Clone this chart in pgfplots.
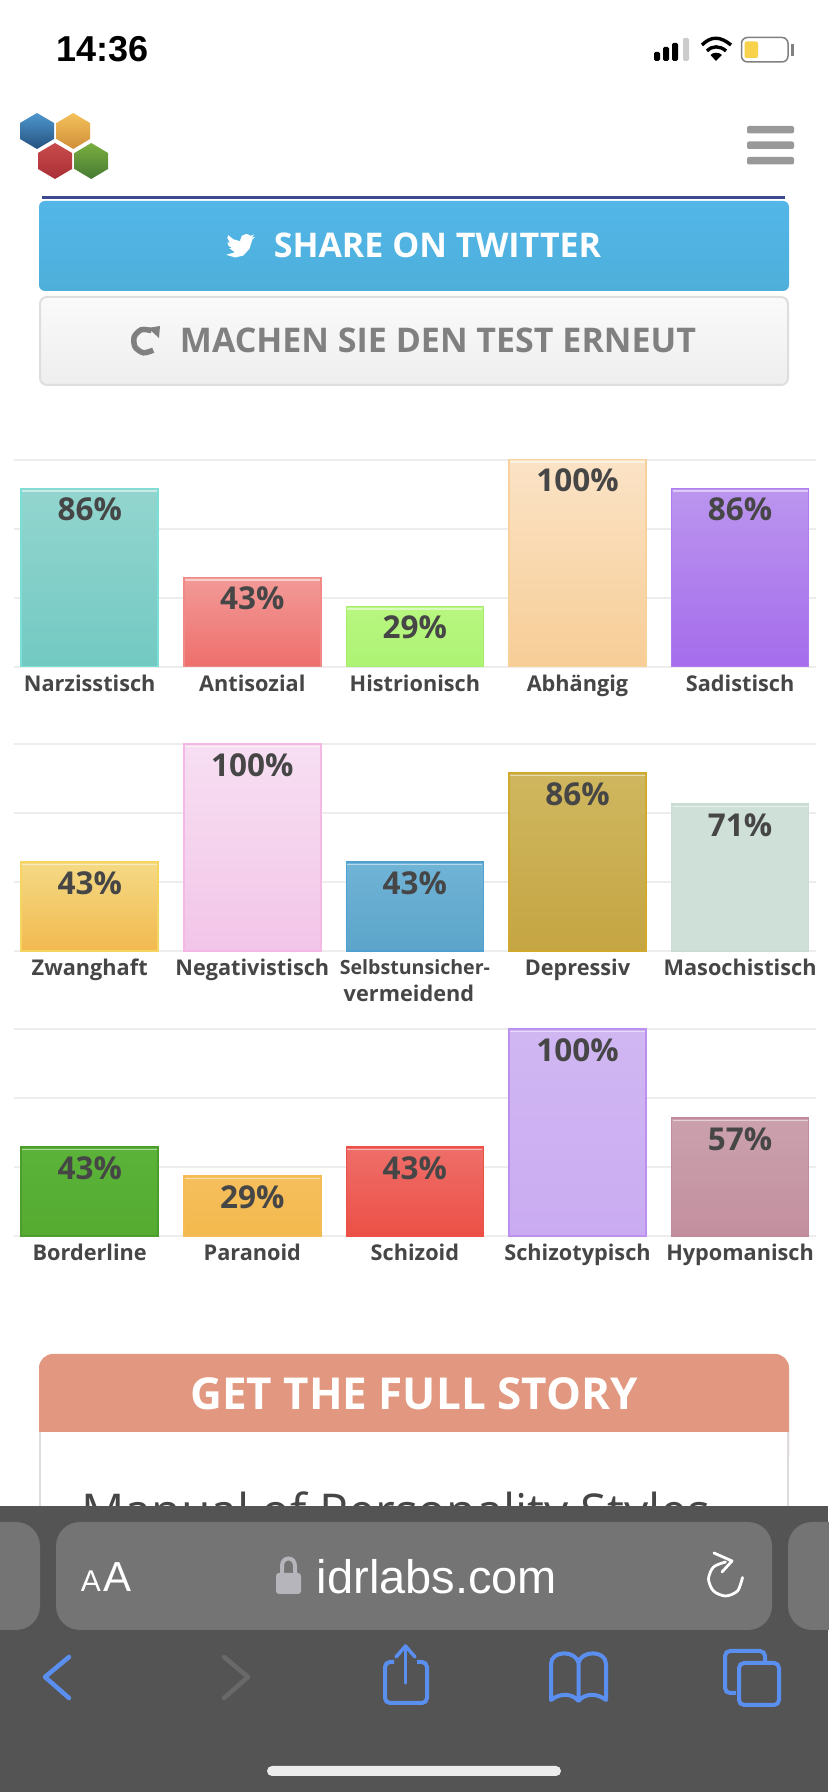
\documentclass[border=0pt]{standalone}
\usepackage{fontspec}
\usepackage{pgfplots}
\pgfplotsset{compat=1.18}
\setmainfont{Open Sans}
\newfontfamily\uifont{Liberation Sans}
\newcommand{\fs}[1]{\fontsize{#1}{#1}\selectfont}

% edge, top and bottom colour of one bar
\newcommand{\defbar}[4]{%
  \definecolor{#1-e}{HTML}{#2}\definecolor{#1-t}{HTML}{#3}\definecolor{#1-b}{HTML}{#4}}
\defbar{narz}{7ADFD6}{93D5CF}{72CAC2}
\defbar{anti}{F08A87}{F29A97}{EE6F6C}
\defbar{hist}{A6EC6E}{B8F680}{AEF374}
\defbar{abha}{F9D19C}{FBE3C6}{F7CD96}
\defbar{sadi}{B07AF0}{BB95EE}{A56CEC}
\defbar{zwan}{F5D560}{F4DA85}{F2B94F}
\defbar{nega}{F4B8E4}{F7DFF2}{F2C5E8}
\defbar{selb}{4F9FD1}{70B4D6}{5CA4CA}
\defbar{depr}{D0A92F}{CFB75F}{C5A543}
\defbar{maso}{CBDCD4}{CFE0D8}{CFE0D8}
\defbar{bord}{4B9E2C}{5BB33A}{55AB30}
\defbar{para}{F4BC55}{F5BF5D}{F4B94E}
\defbar{schi}{EC5046}{EE6E69}{EC5046}
\defbar{typi}{BB90EE}{D0B7F2}{CAABF2}
\defbar{hypo}{C08B9B}{CBA1AD}{C38F9E}

\definecolor{labeltext}{HTML}{464646}
\definecolor{gridc}{HTML}{EDEDED}
\definecolor{iosblue}{HTML}{5A8FF0}
\definecolor{battery}{HTML}{F8D24A}
\definecolor{rule}{HTML}{3B4A8E}
\definecolor{twtop}{HTML}{52B6E8}
\definecolor{twbot}{HTML}{4EAFDA}
\definecolor{btnedge}{HTML}{DEDEDE}
\definecolor{btntop}{HTML}{FAFAFA}
\definecolor{btnbot}{HTML}{EEEEEE}
\definecolor{panel}{HTML}{DDDDDD}
\definecolor{salmon}{HTML}{E29880}
\definecolor{toolbar}{HTML}{545454}
\definecolor{pill}{HTML}{747474}
\definecolor{lockc}{HTML}{B5B5BB}
\definecolor{dimmed}{HTML}{696969}
\definecolor{homebar}{HTML}{ECECEC}
\definecolor{hexbt}{HTML}{4F97CE}
\definecolor{hexbb}{HTML}{24527F}
\definecolor{hexot}{HTML}{F4C15A}
\definecolor{hexob}{HTML}{D08F3A}
\definecolor{hexrt}{HTML}{C94B4B}
\definecolor{hexrb}{HTML}{A92F37}
\definecolor{hexgt}{HTML}{7AAE3F}
\definecolor{hexgb}{HTML}{467A33}

% one bar, with the pale line just under its top edge
\newcommand{\persobar}[3]{%
  \addplot[ybar, bar width=137pt, bar shift=0pt, line width=1.5pt, draw=#3-e,
    top color=#3-t, bottom color=#3-b,
    nodes near coords={\pgfmathprintnumber{\pgfplotspointmeta}\%},
    nodes near coords style={anchor=center, yshift=-21pt, font=\bfseries\fs{31.5}, text=labeltext}]
    coordinates {(#1,#2)};
  \addplot[draw=none, mark=none, forget plot, yshift=-2.5pt,
    error bars/.cd, x dir=both, x fixed=0.415, error mark=none,
    error bar style={white, opacity=0.5, line width=1.5pt}]
    coordinates {(#1,#2)};
}

\pgfplotsset{persoaxis/.style={
  anchor=south west, scale only axis, width=802pt, height=207pt,
  xmin=-0.4656, xmax=4.4668, ymin=0, ymax=100, clip=false,
  axis line style={draw=none}, major tick length=0pt,
  xtick={0,1,2,3,4}, ytick={0,33.33,66.67,100}, yticklabels={},
  ymajorgrids, grid style={gridc, line width=2pt},
  /pgf/number format/assume math mode=true,
  xticklabel style={font=\bfseries\fs{21.7}, text=labeltext, align=center, inner sep=0pt, anchor=north, yshift=-8pt},
}}

% pointed hexagon of the logo: x0, y0, x1, y1, top, bottom
\newcommand{\hexa}[6]{%
  \shade[top color=#5, bottom color=#6]
    ({(#1+#3)/2},#2) -- (#3,{#2+10}) -- (#3,{#4-10}) -- ({(#1+#3)/2},#4)
    -- (#1,{#4-10}) -- (#1,{#2+10}) -- cycle;}

\begin{document}
\begin{tikzpicture}
\fill[white] (0,0) rectangle (828pt,1792pt);
\path[use as bounding box] (0,0) rectangle (828pt,1792pt);

\begin{scope}[x=1pt,y=-1pt,shift={(0pt,1792pt)}]
  % status bar
  \node[anchor=center,inner sep=0pt,font=\uifont\bfseries\fs{36}] at (102.5,49.5) {14:36};
  \fill[black,rounded corners=1.5pt] (654,52) rectangle (660,61);
  \fill[black,rounded corners=1.5pt] (663,47) rectangle (669,61);
  \fill[black,rounded corners=1.5pt] (672,43) rectangle (678,61);
  \fill[black!20,rounded corners=1.5pt] (683,38) rectangle (689,61);
  \draw[black,line width=3.4pt] (702,45) .. controls (711,36) and (720,36) .. (731,45);
  \draw[black,line width=3.4pt] (707,51) .. controls (712,45.5) and (720,45.5) .. (726,51);
  \fill[black] (710.5,55) .. controls (713,52) and (719,52) .. (722,55) -- (716,61) -- cycle;
  \draw[black!50,line width=1.5pt,rounded corners=6pt] (741.5,37.5) rectangle (788,62);
  \fill[battery,rounded corners=2pt] (744.5,41.5) rectangle (758,58);
  \fill[black!50] (791,44) rectangle (794,56);

  % logo and menu
  \hexa{20}{113}{54}{149}{hexbt}{hexbb}
  \hexa{56.5}{113}{90}{149}{hexot}{hexob}
  \hexa{38}{143}{72}{179}{hexrt}{hexrb}
  \hexa{74.5}{143}{108}{179}{hexgt}{hexgb}
  \fill[black!40,rounded corners=2pt] (747,126) rectangle (794,133.5);
  \fill[black!40,rounded corners=2pt] (747,141.5) rectangle (794,149);
  \fill[black!40,rounded corners=2pt] (747,157) rectangle (794,164.5);

  % buttons
  \fill[rule] (42,196.5) rectangle (785,199);
  \shade[rounded corners=6pt,top color=twtop,bottom color=twbot]
    (39,201) rectangle (789,291);
  \fill[white,shift={(224,228.5)},x=1.38pt,y=-1.38pt]
    (22.46,6) -- (20,6.69) -- (21.88,4.31) -- (19.16,5.36) -- (17.6,4.3) -- (16,4) -- (13,5.2) -- (11.73,8.29) -- (11.84,9.27)
    -- (6.8,7.8) -- (3,4.79) -- (2.42,6.94) -- (4.33,10.5) -- (2.38,10) -- (3.3,12.6) -- (5.82,14.24) -- (3.89,14.31)
    -- (7.89,17.29) -- (1.54,19.07) -- (8.12,21) -- (14,19.6) -- (18.4,14.8) -- (20.33,8.79) -- (20.32,8.23) -- cycle;
  \node[text=white,font=\bfseries\fs{34},inner sep=0pt] at (437.5,245.5) {SHARE ON TWITTER};
  \draw[btnedge,line width=2pt,rounded corners=7pt,top color=btntop,bottom color=btnbot]
    (40,297) rectangle (788,385);
  \draw[black!50,line width=5.5pt] plot[smooth] coordinates {(153.2,350.2) (143.4,352.8) (135.1,347) (134.2,336.9) (141.4,329.7) (151.5,330.6)};
  \fill[black!50] (148,328) -- (160,326) -- (159,338) -- cycle;
  \node[text=black!50,font=\bfseries\fs{34},inner sep=0pt] at (438,340) {MACHEN SIE DEN TEST ERNEUT};

  % next panel, cut off by the toolbar
  \fill[salmon,rounded corners=14pt] (39,1354) rectangle (789,1470);
  \fill[white] (39,1432.5) rectangle (789,1480);
  \draw[panel,line width=1.5pt] (40,1432.5) -- (40,1510) (788,1432.5) -- (788,1510);
  \node[text=white,font=\bfseries\fs{44},inner sep=0pt] at (414,1394) {GET THE FULL STORY};
  \node[text=labeltext,font=\fs{48},inner sep=0pt,anchor=base] at (396,1529) {Manual of Personality Styles};

  % browser toolbar
  \fill[toolbar] (0,1506) rectangle (828,1792);
  \fill[pill,rounded corners=24pt] (56,1522) rectangle (772,1630);
  \fill[pill,rounded corners=24pt] (-60,1522) rectangle (40,1630);
  \fill[pill,rounded corners=24pt] (788,1522) rectangle (888,1630);
  \node[text=white,font=\uifont\fs{30},inner sep=0pt,anchor=base] at (91,1592) {A};
  \node[text=white,font=\uifont\fs{42},inner sep=0pt,anchor=base] at (118,1592) {A};
  \fill[lockc,rounded corners=3pt] (276,1573) rectangle (301,1594);
  \draw[lockc,line width=4pt] (282,1575) -- (282,1566) .. controls (282,1556) and (295,1556) .. (295,1566) -- (295,1575);
  \node[text=white,font=\uifont\fs{47},inner sep=0pt,anchor=base] at (437,1594) {idrlabs.com};
  \draw[white,line width=2.8pt,line cap=round] plot[smooth] coordinates {(742.5,1577.5) (737.5,1591) (725.5,1596) (713.5,1591) (708.5,1579) (713.5,1567) (725.5,1562)};
  \draw[white,line width=2.8pt,line cap=round,line join=round] (714,1553) -- (732,1561) -- (722,1572);

  \draw[iosblue,line width=4.5pt,line cap=round,line join=round] (69,1657) -- (45,1677) -- (69,1698);
  \draw[dimmed,line width=4.5pt,line cap=round,line join=round] (224,1657) -- (248,1677) -- (224,1698);
  \draw[iosblue,line width=4pt,rounded corners=5pt] (394,1662) -- (385,1662) -- (385,1703) -- (427,1703) -- (427,1662) -- (417,1662);
  \draw[iosblue,line width=3.5pt,line cap=round] (405.5,1683) -- (405.5,1647);
  \draw[iosblue,line width=3.5pt,line cap=round,line join=round] (396,1657) -- (405.5,1646) -- (415,1657);
  \draw[iosblue,line width=4pt,line join=round] (578.5,1701) .. controls (572,1693) and (560,1693) .. (551,1700) -- (551,1664)
     .. controls (551,1650) and (576,1650) .. (578.5,1663) .. controls (581,1650) and (606,1650) .. (606,1664) -- (606,1700)
     .. controls (597,1693) and (585,1693) .. (578.5,1701) -- cycle (578.5,1663) -- (578.5,1698);
  \draw[iosblue,line width=4pt,rounded corners=5pt] (736,1693) -- (725,1693) -- (725,1651) -- (765,1651) -- (765,1662);
  \draw[iosblue,line width=4pt,rounded corners=5pt] (739,1663) rectangle (779,1705);
  \fill[homebar,rounded corners=5pt] (267,1766) rectangle (561,1776);
\end{scope}

\begin{axis}[persoaxis, at={(14pt,1125.3pt)},
  xticklabels={Narzisstisch,Antisozial,Histrionisch,Abhängig,Sadistisch}]
  \persobar{0}{86}{narz}
  \persobar{1}{43}{anti}
  \persobar{2}{29}{hist}
  \persobar{3}{100}{abha}
  \persobar{4}{86}{sadi}
\end{axis}

\begin{axis}[persoaxis, at={(14pt,841pt)},
  xticklabels={Zwanghaft,Negativistisch,{\fs{19.6}Selbstunsicher-\\[6pt]vermeidend\hspace*{12pt}},Depressiv,Masochistisch}]
  \persobar{0}{43}{zwan}
  \persobar{1}{100}{nega}
  \persobar{2}{43}{selb}
  \persobar{3}{86}{depr}
  \persobar{4}{71}{maso}
\end{axis}

\begin{axis}[persoaxis, at={(14pt,556pt)},
  xticklabels={Borderline,Paranoid,Schizoid,Schizotypisch,Hypomanisch}]
  \persobar{0}{43}{bord}
  \persobar{1}{29}{para}
  \persobar{2}{43}{schi}
  \persobar{3}{100}{typi}
  \persobar{4}{57}{hypo}
\end{axis}
\end{tikzpicture}
\end{document}
